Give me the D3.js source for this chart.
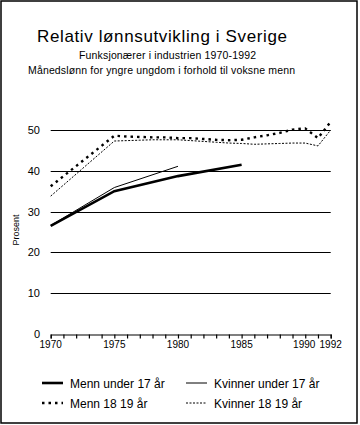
<!DOCTYPE html>
<html>
<head>
<meta charset="utf-8">
<script src="https://cdn.jsdelivr.net/npm/d3@7"></script>
<style>
  html, body { margin: 0; padding: 0; background: #fff; }
  svg { display: block; }
  text { font-family: "Liberation Sans", Arial, sans-serif; fill: #000; }
</style>
</head>
<body>
<div id="chart"></div>
<script>
// ---- data ----
const title = "Relativ lønnsutvikling i Sverige";
const subtitle1 = "Funksjonærer i industrien 1970-1992";
const subtitle2 = "Månedslønn for yngre ungdom i forhold til voksne menn";
const yLabel = "Prosent";

const xTickLabels = [1970, 1975, 1980, 1985, 1990, 1992];
const yTicks = [0, 10, 20, 30, 40, 50];

const seriesNames = ["Menn under 17 år", "Kvinner under 17 år", "Menn 18 19 år", "Kvinner 18 19 år"];

const yearsUnder17Menn = [1970, 1975, 1980, 1985];
const mennUnder17 = [26.5, 35.0, 38.7, 41.5];

const yearsUnder17Kvinner = [1970, 1975, 1980];
const kvinnerUnder17 = [26.6, 35.9, 41.1];

const years1819 = [1970, 1975, 1976, 1977, 1978, 1979, 1980, 1981, 1982, 1983, 1984, 1985, 1986, 1987, 1988, 1989, 1990, 1991, 1992];
const menn1819 = [36.2, 48.6, 48.4, 48.3, 48.2, 48.2, 48.0, 48.0, 47.8, 47.6, 47.5, 47.6, 48.2, 48.7, 49.3, 50.1, 50.4, 48.0, 52.0];
const kvinner1819 = [33.8, 47.3, 47.4, 47.5, 47.6, 47.6, 47.6, 47.4, 47.2, 47.0, 46.8, 46.7, 46.5, 46.6, 46.7, 46.8, 46.8, 46.1, 50.0];

// ---- layout ----
const W = 360, H = 425;
const svg = d3.select("#chart").append("svg").attr("width", W).attr("height", H);

svg.append("rect").attr("x", 1).attr("y", 1).attr("width", 356).attr("height", 422)
  .attr("fill", "none").attr("stroke", "#000").attr("stroke-width", 1.5);

const x = d3.scaleLinear().domain([1970, 1992]).range([50.7, 330.7]);
const y = d3.scaleLinear().domain([0, 50]).range([334, 130]);

// titles
svg.append("text").attr("x", 162).attr("y", 42).attr("text-anchor", "middle")
  .style("font-size", "17px").attr("textLength", 250).attr("lengthAdjust", "spacing").text(title);
svg.append("text").attr("x", 167.5).attr("y", 59).attr("text-anchor", "middle")
  .style("font-size", "10.5px").attr("textLength", 177).attr("lengthAdjust", "spacing").text(subtitle1);
svg.append("text").attr("x", 161.5).attr("y", 74).attr("text-anchor", "middle")
  .style("font-size", "10.5px").attr("textLength", 267).attr("lengthAdjust", "spacing").text(subtitle2);

// gridlines
svg.append("g").selectAll("line").data(yTicks.filter(d => d > 0)).join("line")
  .attr("x1", x(1970)).attr("x2", x(1992))
  .attr("y1", d => Math.round(y(d)) + 0.5).attr("y2", d => Math.round(y(d)) + 0.5)
  .attr("stroke", "#000").attr("stroke-width", 1.2);

// y tick labels
svg.append("g").selectAll("text").data(yTicks).join("text")
  .attr("x", 40).attr("y", d => y(d) + 4).attr("text-anchor", "end")
  .style("font-size", "11px").text(d => d);

// y label
svg.append("text").attr("transform", `translate(19,230) rotate(-90)`)
  .attr("text-anchor", "middle").style("font-size", "9px").text(yLabel);

// x axis
const xAxis = d3.axisBottom(x).tickValues(d3.range(1970, 1993)).tickSize(4).tickFormat("");
const gx = svg.append("g").attr("transform", `translate(0,${Math.round(y(0)) + 0.5})`).call(xAxis);
gx.select(".domain").attr("stroke", "#000").attr("stroke-width", 1.2);
gx.selectAll(".tick line").attr("stroke", "#000").attr("stroke-width", 1.2);

svg.append("g").selectAll("text").data(xTickLabels).join("text")
  .attr("x", d => x(d) + (d === 1990 ? -1 : 0))
  .attr("y", 348).attr("text-anchor", "middle")
  .style("font-size", "10px").text(d => d);

// lines
const line = d3.line().x(d => x(d[0])).y(d => y(d[1]));
const zip = (xs, ys) => xs.map((v, i) => [v, ys[i]]);

const styles = [
  { width: 2.6, dash: null },
  { width: 1, dash: null },
  { width: 2.4, dash: "2.5,4" },
  { width: 1, dash: "2,1.5" }
];
const seriesData = [
  zip(yearsUnder17Menn, mennUnder17),
  zip(yearsUnder17Kvinner, kvinnerUnder17),
  zip(years1819, menn1819),
  zip(years1819, kvinner1819)
];

svg.append("g").selectAll("path").data(seriesData).join("path")
  .attr("d", d => line(d)).attr("fill", "none").attr("stroke", "#000")
  .attr("stroke-width", (d, i) => styles[i].width)
  .attr("stroke-dasharray", (d, i) => styles[i].dash);

// legend
const legendPos = [[42, 383], [186, 383], [42, 403], [186, 403]];
const lg = svg.append("g").selectAll("g").data(seriesNames).join("g")
  .attr("transform", (d, i) => `translate(${legendPos[i][0]},${legendPos[i][1]})`);
lg.append("line").attr("x1", 0).attr("x2", 21).attr("y1", 0).attr("y2", 0)
  .attr("stroke", "#000")
  .attr("stroke-width", (d, i) => styles[i].width)
  .attr("stroke-dasharray", (d, i) => styles[i].dash);
lg.append("text").attr("x", 28).attr("y", 4.5).style("font-size", "12px").text(d => d);
</script>
</body>
</html>
